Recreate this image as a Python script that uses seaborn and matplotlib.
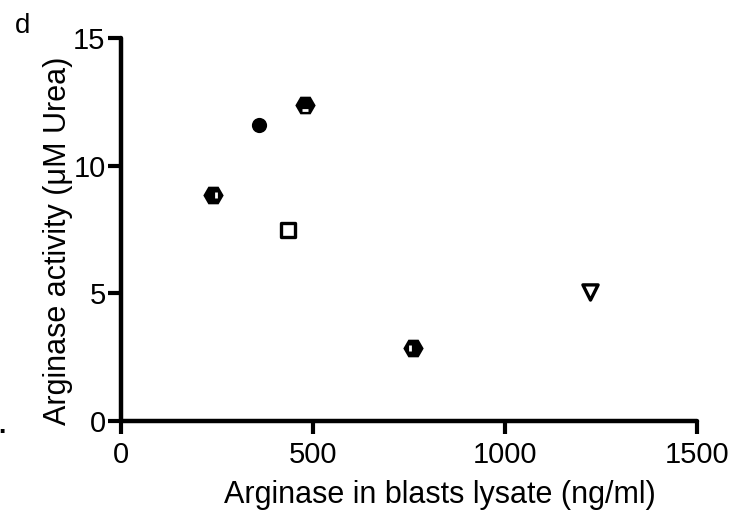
import seaborn as sns
import pandas as pd
import numpy as np
import matplotlib.pyplot as plt

# Data
blasts_lysate = [240, 359, 479, 435, 760, 1221]
arginase_activity = [8.85, 11.6, 12.4, 7.5, 2.85, 5.05]
marker_kind = ["hex", "circle", "hex", "square", "hex", "triangle"]

x_ticks = [0, 500, 1000, 1500]
y_ticks = [0, 5, 10, 15]

df = pd.DataFrame({"x": blasts_lysate, "y": arginase_activity, "kind": marker_kind})

sns.set_style("ticks")
plt.rcParams["font.family"] = ["Liberation Sans", "DejaVu Sans"]
plt.rcParams["text.color"] = "black"
plt.rcParams["axes.labelcolor"] = "black"
plt.rcParams["xtick.color"] = "black"
plt.rcParams["ytick.color"] = "black"
plt.rcParams["axes.edgecolor"] = "black"

fig = plt.figure(figsize=(7.46, 5.17), dpi=100)
ax = fig.add_axes([0.162, 0.186, 0.772, 0.74])

styles = {
    "hex": dict(marker="H", s=215, color="black", edgecolor="black", linewidth=0),
    "circle": dict(marker="o", s=120, color="black", edgecolor="black", linewidth=0),
    "square": dict(marker="s", s=110, facecolor="white", edgecolor="black", linewidth=2.4),
    "triangle": dict(marker="v", s=120, facecolor="white", edgecolor="black", linewidth=2.4),
}
for kind, kw in styles.items():
    sub = df[df["kind"] == kind]
    sns.scatterplot(data=sub, x="x", y="y", ax=ax, zorder=3, clip_on=False, **kw)

# small white notches inside the hexagons (as in the original)
hex_df = df[df["kind"] == "hex"]
notch = ["|", "_", "|"]
shift = [8, 0, -8]
for (xi, yi), m, dx in zip(hex_df[["x", "y"]].values, notch, shift):
    ax.scatter([xi + dx], [yi - (0.2 if m == "_" else 0)], marker=m, s=25,
               color="white", linewidth=2, zorder=4)

ax.set_xlim(0, 1500)
ax.set_ylim(0, 15)
ax.set_xticks(x_ticks)
ax.set_yticks(y_ticks)
ax.tick_params(axis="both", length=9.5, width=3, labelsize=21, color="black")
ax.tick_params(axis="x", pad=5)
ax.tick_params(axis="y", pad=1.5)
for side in ["left", "bottom"]:
    ax.spines[side].set_linewidth(3.2)
    ax.spines[side].set_capstyle("round")
sns.despine(ax=ax)

ax.set_xlabel("Arginase in blasts lysate (ng/ml)", fontsize=22)
ax.set_ylabel("Arginase activity (\u03bcM Urea)", fontsize=22)
ax.xaxis.set_label_coords(0.554, -0.155)
ax.yaxis.set_label_coords(-0.083, 0.47)

fig.text(0.02, 0.975, "d", fontsize=20, va="top")
fig.text(-0.002, 0.163, ".", fontsize=19, fontweight="bold")

fig.savefig("out.png", dpi=100)
